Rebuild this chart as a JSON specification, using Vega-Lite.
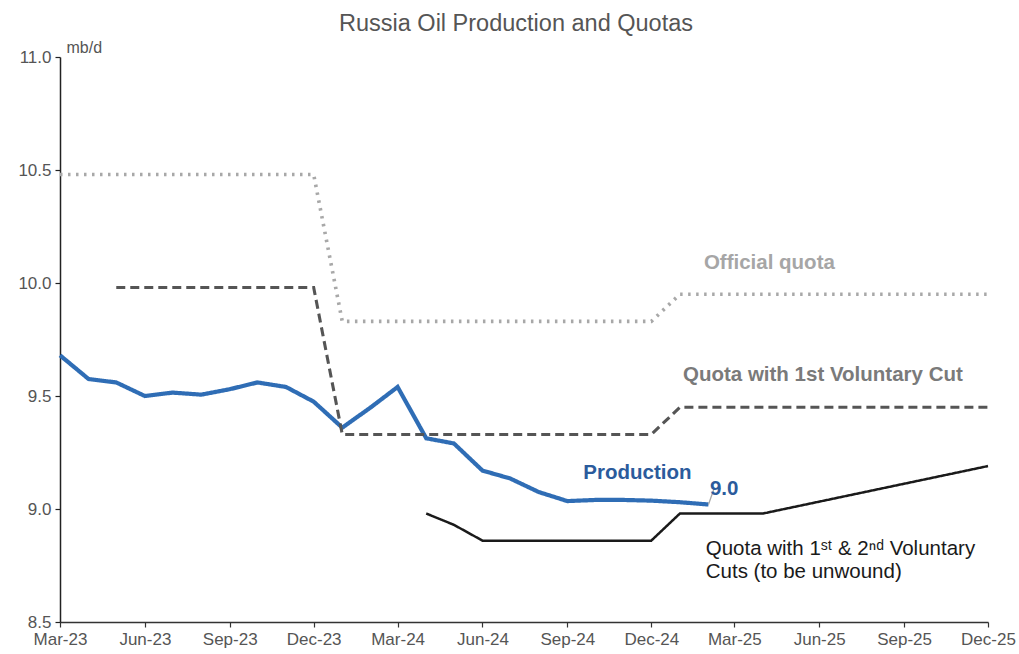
{
  "$schema": "https://vega.github.io/schema/vega-lite/v6.json",
  "autosize": "none",
  "width": 928,
  "height": 565,
  "padding": {"left": 60, "top": 57, "right": 31, "bottom": 32},
  "background": "white",
  "config": {
    "view": {"stroke": null},
    "font": "Liberation Sans",
    "axis": {
      "grid": false,
      "title": null,
      "labelColor": "#555555",
      "labelFontSize": 17,
      "labelFont": "Liberation Sans",
      "tickColor": "#333333",
      "domainColor": "#333333",
      "domainWidth": 1.5,
      "tickWidth": 1.2,
      "tickSize": 5
    },
    "axisX": {"labelPadding": 4, "labelFlush": false},
    "axisY": {"labelPadding": 4}
  },
  "title": {
    "text": "Russia Oil Production and Quotas",
    "fontSize": 23.5,
    "fontWeight": "normal",
    "color": "#555555",
    "anchor": "middle",
    "offset": 4,
    "dx": -8
  },
  "datasets": {
    "lines": [
      {"series": "Production", "date": "2023-03-01", "value": 9.68},
      {"series": "Production", "date": "2023-04-01", "value": 9.575},
      {"series": "Production", "date": "2023-05-01", "value": 9.56},
      {"series": "Production", "date": "2023-06-01", "value": 9.50},
      {"series": "Production", "date": "2023-07-01", "value": 9.515},
      {"series": "Production", "date": "2023-08-01", "value": 9.506},
      {"series": "Production", "date": "2023-09-01", "value": 9.53},
      {"series": "Production", "date": "2023-10-01", "value": 9.56},
      {"series": "Production", "date": "2023-11-01", "value": 9.54},
      {"series": "Production", "date": "2023-12-01", "value": 9.475},
      {"series": "Production", "date": "2024-01-01", "value": 9.36},
      {"series": "Production", "date": "2024-02-01", "value": 9.45},
      {"series": "Production", "date": "2024-03-01", "value": 9.54},
      {"series": "Production", "date": "2024-04-01", "value": 9.313},
      {"series": "Production", "date": "2024-05-01", "value": 9.29},
      {"series": "Production", "date": "2024-06-01", "value": 9.17},
      {"series": "Production", "date": "2024-07-01", "value": 9.135},
      {"series": "Production", "date": "2024-08-01", "value": 9.075},
      {"series": "Production", "date": "2024-09-01", "value": 9.035},
      {"series": "Production", "date": "2024-10-01", "value": 9.04},
      {"series": "Production", "date": "2024-11-01", "value": 9.04},
      {"series": "Production", "date": "2024-12-01", "value": 9.037},
      {"series": "Production", "date": "2025-01-01", "value": 9.03},
      {"series": "Production", "date": "2025-02-01", "value": 9.02},
      {"series": "Official quota", "date": "2023-03-01", "value": 10.48},
      {"series": "Official quota", "date": "2023-12-01", "value": 10.48},
      {"series": "Official quota", "date": "2024-01-01", "value": 9.83},
      {"series": "Official quota", "date": "2024-12-01", "value": 9.83},
      {"series": "Official quota", "date": "2025-01-01", "value": 9.95},
      {"series": "Official quota", "date": "2025-12-01", "value": 9.95},
      {"series": "Quota with 1st Voluntary Cut", "date": "2023-05-01", "value": 9.98},
      {"series": "Quota with 1st Voluntary Cut", "date": "2023-12-01", "value": 9.98},
      {"series": "Quota with 1st Voluntary Cut", "date": "2024-01-01", "value": 9.33},
      {"series": "Quota with 1st Voluntary Cut", "date": "2024-12-01", "value": 9.33},
      {"series": "Quota with 1st Voluntary Cut", "date": "2025-01-01", "value": 9.45},
      {"series": "Quota with 1st Voluntary Cut", "date": "2025-12-01", "value": 9.45},
      {"series": "Quota with 1st & 2nd Voluntary Cuts", "date": "2024-04-01", "value": 8.98},
      {"series": "Quota with 1st & 2nd Voluntary Cuts", "date": "2024-05-01", "value": 8.93},
      {"series": "Quota with 1st & 2nd Voluntary Cuts", "date": "2024-06-01", "value": 8.86},
      {"series": "Quota with 1st & 2nd Voluntary Cuts", "date": "2024-12-01", "value": 8.86},
      {"series": "Quota with 1st & 2nd Voluntary Cuts", "date": "2025-01-01", "value": 8.98},
      {"series": "Quota with 1st & 2nd Voluntary Cuts", "date": "2025-04-01", "value": 8.98},
      {"series": "Quota with 1st & 2nd Voluntary Cuts", "date": "2025-12-01", "value": 9.19}
    ],
    "leader": [
      {"date": "2025-02-01", "value": 9.02},
      {"date": "2025-02-07", "value": 9.09},
      {"date": "2025-02-14", "value": 9.09}
    ],
    "labels": [
      {"kind": "official", "text": "Official quota", "date": "2025-04-08", "value": 10.088},
      {"kind": "first", "text": "Quota with 1st Voluntary Cut", "date": "2025-06-05", "value": 9.593},
      {"kind": "prod", "text": "Production", "date": "2024-11-16", "value": 9.16},
      {"kind": "prodval", "text": "9.0", "date": "2025-02-18", "value": 9.088},
      {"kind": "second", "text": "Quota with 1ˢᵗ & 2ⁿᵈ Voluntary", "date": "2025-01-29", "value": 8.825},
      {"kind": "second", "text": "Cuts (to be unwound)", "date": "2025-01-29", "value": 8.72},
      {"kind": "unit", "text": "mb/d", "date": "2023-03-08", "value": 11.04}
    ]
  },
  "encoding": {
    "x": {
      "field": "date",
      "type": "temporal",
      "scale": {
        "type": "utc",
        "domain": ["2023-03-01", "2025-12-01"]
      },
      "axis": {
        "title": null,
        "labelExpr": "utcFormat(datum.value, '%b-%y')",
        "values": [
          {"year": 2023, "month": 3, "date": 1, "utc": true},
          {"year": 2023, "month": 6, "date": 1, "utc": true},
          {"year": 2023, "month": 9, "date": 1, "utc": true},
          {"year": 2023, "month": 12, "date": 1, "utc": true},
          {"year": 2024, "month": 3, "date": 1, "utc": true},
          {"year": 2024, "month": 6, "date": 1, "utc": true},
          {"year": 2024, "month": 9, "date": 1, "utc": true},
          {"year": 2024, "month": 12, "date": 1, "utc": true},
          {"year": 2025, "month": 3, "date": 1, "utc": true},
          {"year": 2025, "month": 6, "date": 1, "utc": true},
          {"year": 2025, "month": 9, "date": 1, "utc": true},
          {"year": 2025, "month": 12, "date": 1, "utc": true}
        ],
        "labelFlush": false
      }
    },
    "y": {
      "field": "value",
      "type": "quantitative",
      "scale": {"domain": [8.5, 11.0], "zero": false, "nice": false},
      "axis": {
        "title": null,
        "values": [8.5, 9.0, 9.5, 10.0, 10.5, 11.0],
        "labelExpr": "format(datum.value, '.1f')",
        "tickColor": "#222222",
        "domainColor": "#222222"
      }
    }
  },
  "layer": [
    {
      "data": {"name": "lines"},
      "mark": {"type": "line", "strokeCap": "butt", "strokeJoin": "miter"},
      "encoding": {
        "detail": {"field": "series"},
        "color": {
          "field": "series",
          "type": "nominal",
          "scale": {
            "domain": ["Production", "Official quota", "Quota with 1st Voluntary Cut", "Quota with 1st & 2nd Voluntary Cuts"],
            "range": ["#2f6db5", "#a8a8a8", "#555555", "#1a1a1a"]
          },
          "legend": null
        },
        "strokeDash": {
          "field": "series",
          "type": "nominal",
          "scale": {
            "domain": ["Production", "Official quota", "Quota with 1st Voluntary Cut", "Quota with 1st & 2nd Voluntary Cuts"],
            "range": [[1, 0], [2.5, 5.5], [9, 5], [1, 0]]
          },
          "legend": null
        },
        "strokeWidth": {
          "field": "series",
          "type": "nominal",
          "scale": {
            "domain": ["Production", "Official quota", "Quota with 1st Voluntary Cut", "Quota with 1st & 2nd Voluntary Cuts"],
            "range": [4.2, 2.5, 2.8, 2.6]
          },
          "legend": null
        },
        "order": {"field": "date", "type": "temporal"}
      }
    },
    {
      "data": {"name": "leader"},
      "mark": {"type": "line", "color": "#a8a8a8", "strokeWidth": 1.3},
      "encoding": {}
    },
    {
      "data": {"name": "labels"},
      "transform": [{"filter": "datum.kind === 'official'"}],
      "mark": {"type": "text", "fontWeight": "bold", "fontSize": 20.5, "color": "#a6a6a6", "align": "center", "baseline": "middle"},
      "encoding": {"text": {"field": "text"}}
    },
    {
      "data": {"name": "labels"},
      "transform": [{"filter": "datum.kind === 'first'"}],
      "mark": {"type": "text", "fontWeight": "bold", "fontSize": 20.5, "color": "#7a7a7a", "align": "center", "baseline": "middle"},
      "encoding": {"text": {"field": "text"}}
    },
    {
      "data": {"name": "labels"},
      "transform": [{"filter": "datum.kind === 'prod' || datum.kind === 'prodval'"}],
      "mark": {"type": "text", "fontWeight": "bold", "fontSize": 20.5, "color": "#2b5b9c", "baseline": "middle"},
      "encoding": {
        "text": {"field": "text"},
        "align": {"condition": {"test": "datum.kind === 'prodval'", "value": "left"}, "value": "center"}
      }
    },
    {
      "data": {"name": "labels"},
      "transform": [{"filter": "datum.kind === 'second'"}],
      "mark": {"type": "text", "fontSize": 20.5, "color": "#1a1a1a", "align": "left", "baseline": "middle"},
      "encoding": {"text": {"field": "text"}}
    },
    {
      "data": {"name": "labels"},
      "transform": [{"filter": "datum.kind === 'unit'"}],
      "mark": {"type": "text", "fontSize": 16, "color": "#555555", "align": "left", "baseline": "middle"},
      "encoding": {"text": {"field": "text"}}
    }
  ]
}
